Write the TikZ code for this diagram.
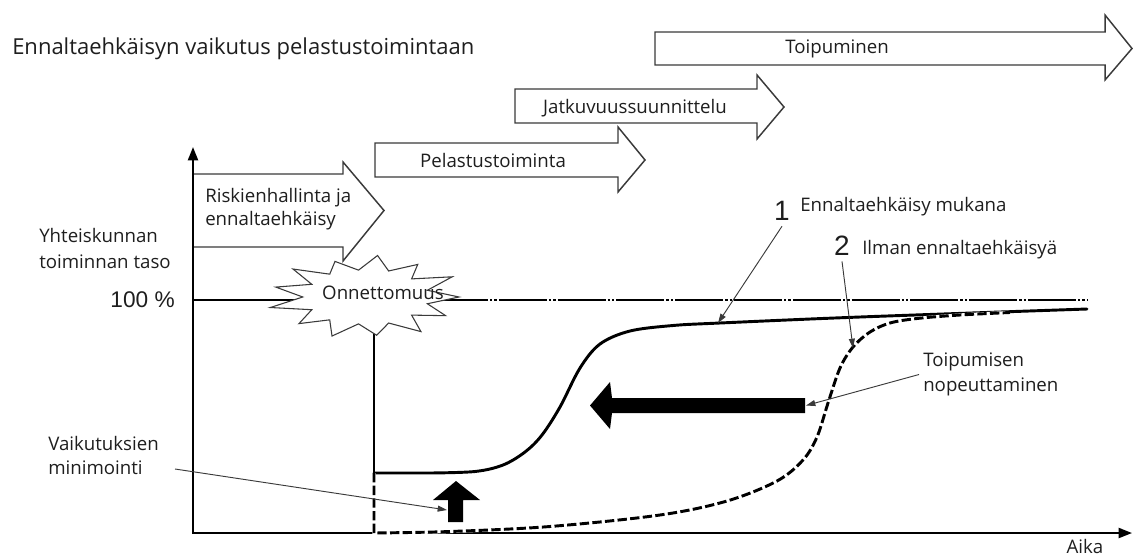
\documentclass[tikz,border=0pt]{standalone}
\usepackage{fontspec}
\setmainfont{Open Sans}
\newfontfamily\arialf{Liberation Sans}
\usetikzlibrary{arrows.meta,calc}
\definecolor{ink}{HTML}{1E1E1E}
\definecolor{outl}{HTML}{3A3A3A}
\begin{document}
\begin{tikzpicture}[x=0.75pt,y=-0.75pt,
  lbl/.style={font=\fontsize{14}{17}\selectfont, text=ink, inner sep=0pt},
  digit/.style={font=\arialf\fontsize{21}{24}\selectfont, text=ink, inner sep=4pt},
  blk/.style={draw=outl, line width=1.1pt, fill=white, line join=miter},
  axisline/.style={line width=1.5pt, {Triangle[length=10pt,width=7.5pt]}-{Triangle[length=10pt,width=7.5pt]}},
  ptr/.style={draw=outl, line width=0.7pt, -{Triangle[length=7pt,width=4.5pt]}},
  curveA/.style={line width=2.2pt, line cap=round},
  curveB/.style={line width=2.2pt, dash pattern=on 7pt off 2.5pt},
  hundred/.style={line width=2.2pt},
  hundreddd/.style={line width=2.2pt, dash pattern=on 36pt off 1.5pt on 1.8pt off 1.5pt on 1.8pt off 1.5pt},
  burst/.style={draw=outl, fill=white, line width=0.8pt, line join=miter},
]
\useasboundingbox (0,0) rectangle (1134,557);

% phase arrows
\draw[blk] (655,32) -- (1105,32) -- (1105,15) -- (1132,48.5) -- (1105,80) -- (1105,65) -- (655,65) -- cycle;
\draw[blk] (515,89) -- (757,89) -- (757,75) -- (784,107) -- (757,139) -- (757,123) -- (515,123) -- cycle;
\draw[blk] (375,143) -- (618,143) -- (618,127) -- (645,160) -- (618,192) -- (618,177) -- (375,177) -- cycle;
\draw[blk] (193,174) -- (343,174) -- (343,162) -- (384,210.5) -- (343,261) -- (343,247) -- (193,247) -- cycle;

\node[lbl] (toipuminen) at (837,49) {Toipuminen};
\node[lbl] (jatkuvuus) at (635,108) {Jatkuvuussuunnittelu};
\node[lbl] (pelastus) at (493,160) {Pelastustoiminta};
\node[lbl, anchor=west, align=left] (risk) at (205,209) {Riskienhallinta ja\\ennaltaehkäisy};

% axes
\coordinate (o) at (193,533);
\coordinate (ytop) at (193,147);
\coordinate (xend) at (1132,533);
\draw[axisline] (ytop) -- (o) -- (xend);

% 100 % level
\coordinate (h0) at (193,300);
\coordinate (h1) at (440,300);
\coordinate (h2) at (1087,300);
\draw[hundred] (h0) -- (h1);
\draw[hundreddd] (h1) -- (h2);

% accident vertical
\coordinate (acc) at (374,300);
\coordinate (accb) at (374,473);
\draw[line width=1.6pt] (acc) -- (accb);

% starburst (accident)
\coordinate (sc) at (366,297);
\draw[burst, shift={(sc)}] (0:93 and 41)
  \foreach \a/\r in {14/0.68, 28/0.97, 42/0.66, 55/1.03, 69/0.68, 83/0.94, 97/0.66, 111/1.02, 125/0.68,
                     138/0.97, 152/0.66, 166/1.06, 180/0.68, 194/1.0, 208/0.66, 221/1.04, 235/0.68,
                     249/0.93, 263/0.66, 277/1.02, 291/0.68, 305/0.97, 318/0.66, 332/1.05, 346/0.68}
  { -- (\a:{93*\r} and {41*\r}) } -- cycle;
\node[lbl] (onn) at (383,293) {Onnettomuus};

% curve 1 (with prevention)
\draw[curveA] (accb) -- plot[smooth, tension=0.55] coordinates {(430,473) (475,471.5) (503,465) (525,452) (542,435) (560,407) (580,368) (600,344) (630,331) (673,325.5) (720,323) (860,317) (1087,309)};

% curve 2 (without prevention)
\draw[white, line width=2.4pt] (accb) -- (374,533) -- plot[smooth, tension=0.55] coordinates {(374,533) (450,531.5) (550,526.5) (660,515) (727,501) (777,481) (803,460) (817,437) (828,403) (840,368) (853,347) (870,332) (890,323) (917,318.5) (960,315) (1010,312.5)};
\draw[curveB] (accb) -- (374,533) -- plot[smooth, tension=0.55] coordinates {(374,533) (450,531.5) (550,526.5) (660,515) (727,501) (777,481) (803,460) (817,437) (828,403) (840,368) (853,347) (870,332) (890,323) (917,318.5) (960,315) (1010,312.5)};

% block arrows
\fill (805,398) -- (612,398) -- (610,382) -- (590,405.5) -- (610,429) -- (612,413) -- (805,413) -- cycle;
\coordinate (bigtail) at (806,405.5);
\fill (448,522) -- (448,500) -- (433,500) -- (456,481) -- (480,500) -- (463,500) -- (463,522) -- cycle;
\coordinate (uptail) at (447,510);

% labels
\node[lbl, font=\fontsize{16.5}{19}\selectfont, anchor=west] (title) at (12,49) {Ennaltaehkäisyn vaikutus pelastustoimintaan};
\node[lbl, anchor=west, align=left, font=\fontsize{14}{20}\selectfont] (yht) at (39,248.5) {Yhteiskunnan\\toiminnan taso};
\node[anchor=east, inner sep=0pt, text=ink, font=\arialf\fontsize{17}{20}\selectfont] (pct) at (175,300) {100 \%};
\node[digit] (one) at (782,211) {1};
\node[digit] (two) at (842,246) {2};
\node[lbl, anchor=west] (mukana) at (800,207) {Ennaltaehkäisy mukana};
\node[lbl, anchor=west] (ilman) at (862,250) {Ilman ennaltaehkäisyä};
\node[lbl, anchor=west, align=left, font=\fontsize{14}{18.5}\selectfont, inner sep=3pt] (toip) at (919,374.5) {Toipumisen\\nopeuttaminen};
\node[lbl, anchor=west, align=left, font=\fontsize{14}{18}\selectfont] (vaik) at (48,455) {Vaikutuksien\\minimointi};
\node[lbl] (aika) at (1085,546) {Aika};

% pointers
\coordinate (c1) at (718,323);
\coordinate (c2) at (853,348);
\coordinate (vstart) at (175,469);
\draw[ptr] (one.south) -- (c1);
\draw[ptr] (two.south) -- (c2);
\draw[ptr] (toip.west) -- (bigtail);
\draw[ptr] (vstart) -- (uptail);
\end{tikzpicture}
\end{document}
